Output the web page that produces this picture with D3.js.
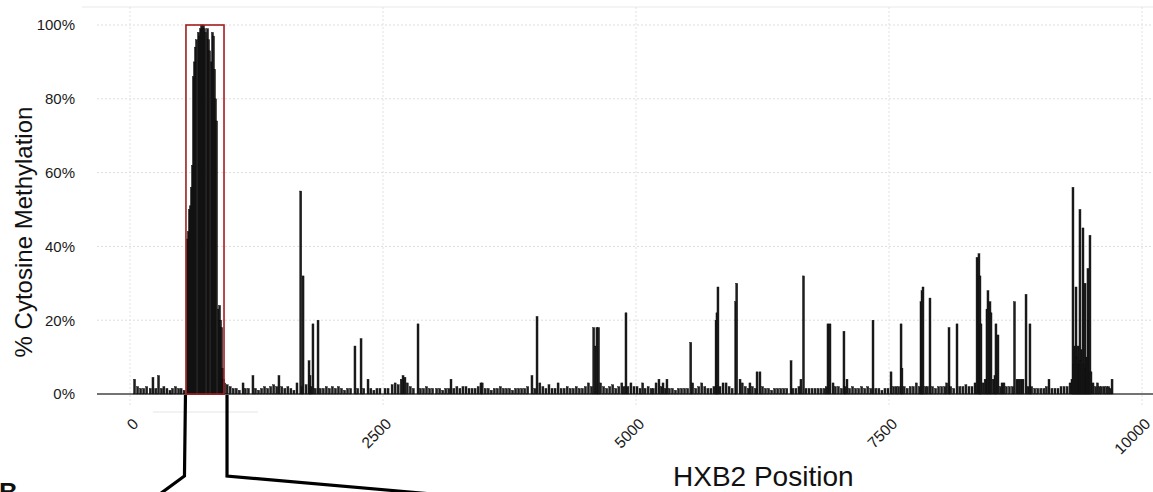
<!DOCTYPE html>
<html><head><meta charset="utf-8">
<script src="https://cdn.jsdelivr.net/npm/d3@7"></script>
<style>body{margin:0;background:#fff}svg{display:block}text{font-family:"Liberation Sans",Arial,sans-serif}</style>
</head><body><svg id="chart" width="1153" height="492"></svg>
<script>
const xTicks=[0,2500,5000,7500,10000];
const yTicks=[0,20,40,60,80,100];
const highlight=[553,929];
const ltrSites=[[567,42],[577,44],[587,50],[597,51],[607,56],[617,62],[627,86],[637,90],[647,94],[657,96],[677,98],[687,97],[697,99],[707,100],[716,99],[726,100],[736,99],[746,98],[766,99],[776,96],[786,93],[806,90],[815,98],[825,97],[835,88],[845,80],[855,74],[875,23],[885,24],[895,20],[905,18],[915,7],[925,4]];
const sitesA=[[45,4],[75,2],[105,1.5],[135,1.5],[165,2],[200,1.5],[227,4.5],[255,1.5],[282,5],[310,1.5],[335,2],[365,1.5],[395,1],[420,1.5],[450,2],[480,1.5],[505,1.5],[535,1],
[935,3],[960,2.5],[990,2],[1020,1.5],[1050,1.5],[1080,1],[1117,3],[1140,1.5],[1170,1.5],[1215,5],[1240,1.5],[1270,1],[1300,1.5],[1330,2],[1360,1.5],[1390,2],[1420,2.5],[1450,2],[1472,5],[1500,2],
[1530,1.5],[1560,2],[1590,1.5],[1620,1],[1650,3],[1687,55],[1700,2],[1710,32],[1740,2.5],[1769,9],[1779,5],[1790,2],[1808,19],[1830,1.5],[1858,20],[1880,1.5],[1910,1.5],[1940,2],[1970,1.5],[2000,2],[2030,1.5],[2060,2],[2090,1.5],[2120,1],[2150,1.5],[2180,1.5],[2223,13],[2250,1.5],[2283,15],[2310,1.5],[2352,4],[2380,1.5],[2410,1],[2440,1.5],[2470,1.5]];
const sitesB=[[2520,1.5],[2550,1.5],[2590,2.5],[2620,3],[2650,2.5],[2680,4],[2698,5],[2717,4.5],[2740,3],[2770,2],[2800,1.5],[2846,19],[2870,1.5],[2900,1.5],[2930,2],[2960,1.5],[2990,1.5],
[3030,1.5],[3060,1.5],[3090,1],[3120,1.5],[3150,1.5],[3172,4],[3200,1.5],[3230,2],[3260,1.5],[3290,2],[3320,2],[3350,1.5],[3380,1.5],[3410,1.5],[3440,2],[3468,3],[3480,3],[3510,1.5],[3540,1.5],[3570,1],[3600,1.5],[3630,1.5],[3660,2],[3690,1.5],[3720,1.5],[3750,1.5],[3780,1],[3810,1.5],[3840,1.5],[3870,1.5],[3900,1.5],[3930,2],[3972,5],[4000,1.5],
[4022,21],[4050,3],[4080,2],[4110,1.5],[4140,2.5],[4170,1.5],[4200,1.5],[4230,3],[4260,1.5],[4290,1.5],[4320,2],[4350,1.5],[4380,1.5],[4410,2],[4440,1.5],[4470,1.5],[4500,2],[4530,3],[4560,2],[4582,18],[4600,13],[4614,18],[4630,18],[4650,3],[4680,2],[4710,1.5],[4740,2],[4770,2.5],[4800,1.5],[4830,2],[4860,3],[4880,2],[4901,22],[4920,2],[4950,3],[4980,2]];
const sitesC=[[5010,2],[5040,1.5],[5066,3],[5090,1.5],[5120,2],[5150,1.5],[5170,1.5],[5198,3],[5227,4],[5250,2],[5267,3],[5290,1.5],[5306,4],[5330,1.5],[5360,1.5],[5390,1],[5420,1.5],[5450,1.5],[5480,1.5],[5510,1.5],[5541,14],[5560,3],[5590,1.5],[5620,2],[5650,3],[5680,2],[5710,1.5],[5740,1.5],[5770,2],[5791,20],[5800,22],[5810,29],[5830,2],[5860,3],[5890,3],[5920,2],[5950,1.5],[5985,25],[5995,30],
[6028,4],[6050,3],[6080,2],[6110,1.5],[6126,3],[6150,2],[6180,1.5],[6196,6],[6225,6],[6250,2],[6280,1.5],[6310,1.5],[6340,1],[6370,1.5],[6400,1.5],[6430,1.5],[6460,1.5],[6490,1.5],[6532,9],[6550,1.5],[6580,1.5],[6610,2],[6630,4],[6655,32],[6680,1.5],[6710,1.5],[6740,1.5],[6770,1.5],[6800,1.5],[6830,1.5],[6860,1.5],[6880,2],[6897,19],[6917,19],[6947,3],[6970,2],
[7000,2],[7030,1.5],[7055,17],[7070,2],[7085,4],[7110,1.5],[7140,2],[7170,1.5],[7200,1.5],[7230,2],[7260,1.5],[7290,2],[7320,1.5],[7342,20],[7370,1.5],[7400,1.5],[7430,1],[7460,1.5],[7490,1.5]];
const sitesD=[[7520,6],[7545,2],[7570,2],[7595,2],[7619,19],[7628,7],[7650,2],[7680,1.5],[7710,2],[7740,2],[7770,3],[7800,2],[7816,25],[7826,28],[7836,29],[7860,2],[7880,2],[7905,26],[7930,2],[7960,1.5],[7990,2],
[8020,2],[8050,2],[8070,3],[8093,18],[8110,2],[8140,1.5],[8172,19],[8200,2],[8230,2],[8260,2.5],[8290,2],[8320,2],[8350,3],[8370,37],[8389,38],[8399,32],[8409,19],[8430,3],[8450,4],[8468,23],[8478,28],[8498,25],[8508,22],[8530,4],[8547,5],[8557,19],[8577,16],[8600,2],[8617,3],[8636,3],[8660,2],[8690,2],[8720,2],[8740,25],[8765,4],[8785,4],[8805,4],[8824,4],[8854,27],[8875,2],[8893,19],[8910,2],[8940,1.5],[8970,1.5],
[9000,1.5],[9030,1.5],[9055,2],[9081,4],[9110,1.5],[9140,1.5],[9170,1.5],[9200,2],[9230,2],[9260,2],[9289,3],[9308,4],[9318,56],[9328,8],[9338,13],[9348,29],[9358,10],[9368,13],[9378,8],[9387,50],[9397,9],[9407,12],[9417,45],[9427,8],[9437,30],[9447,7],[9456,10],[9466,34],[9476,20],[9486,43],[9496,6],[9516,3],[9540,2],[9560,3],[9580,2],[9600,2],[9625,2],[9650,2],[9670,2],[9690,1.5],[9704,4]];

const svg=d3.select("#chart");
const x=d3.scaleLinear().domain([0,10000]).range([130,1142]);
const y=d3.scaleLinear().domain([0,100]).range([394,25]);
const panelLeft=97, panelRight=1153, panelTop=7;
const barW=2;

svg.append("line").attr("x1",82).attr("x2",panelRight).attr("y1",panelTop).attr("y2",panelTop)
  .attr("stroke","#f0f0f0").attr("stroke-width",1.5);
svg.append("line").attr("x1",153).attr("x2",258).attr("y1",412).attr("y2",412)
  .attr("stroke","#eeeeee").attr("stroke-width",1.5);

svg.append("g").selectAll("line").data(yTicks.filter(d=>d>0)).join("line")
  .attr("x1",panelLeft).attr("x2",panelRight).attr("y1",d=>y(d)).attr("y2",d=>y(d))
  .attr("stroke","#dedede").attr("stroke-width",1).attr("stroke-dasharray","2,2");
svg.append("g").selectAll("line").data(xTicks).join("line")
  .attr("x1",d=>x(d)).attr("x2",d=>x(d)).attr("y1",panelTop).attr("y2",405)
  .attr("stroke","#e2e2e2").attr("stroke-width",1).attr("stroke-dasharray","2,2");

svg.append("line").attr("x1",panelLeft).attr("x2",panelRight).attr("y1",y(0)).attr("y2",y(0))
  .attr("stroke","#444").attr("stroke-width",1.3);

const allSites=[].concat(sitesA,sitesB,sitesC,sitesD,ltrSites);
svg.append("g").selectAll("rect").data(allSites).join("rect")
  .attr("x",d=>x(d[0])-barW/2).attr("width",barW)
  .attr("y",d=>y(d[1])).attr("height",d=>y(0)-y(d[1]))
  .attr("fill","#1e1e1e").attr("stroke","#000").attr("stroke-width",0.4);

svg.append("rect").attr("x",x(highlight[0])).attr("y",y(100))
  .attr("width",x(highlight[1])-x(highlight[0])).attr("height",y(0)-y(100))
  .attr("fill","none").attr("stroke","#a31f1f").attr("stroke-width",1.6);

const lx=x(highlight[0])-1, rx=x(highlight[1])+3;
svg.append("path").attr("d",`M${lx+0.5},${y(0)+1} L${lx-0.5},476 L${lx-36},502`)
  .attr("fill","none").attr("stroke","#000").attr("stroke-width",3.2);
svg.append("path").attr("d",`M${rx},${y(0)+1} L${rx},476 L${rx+200},493.5`)
  .attr("fill","none").attr("stroke","#000").attr("stroke-width",3.2);

const yAxis=svg.append("g").attr("transform",`translate(${panelLeft},0)`)
  .call(d3.axisLeft(y).tickValues(yTicks).tickSize(0).tickPadding(22).tickFormat(d=>d+"%"));
yAxis.select(".domain").remove();
yAxis.selectAll("text").attr("font-size",15).attr("fill","#1a1a1a").style("font-family",'"Liberation Sans",Arial,sans-serif');

const xAxis=svg.append("g").attr("transform",`translate(0,${y(0)})`)
  .call(d3.axisBottom(x).tickValues(xTicks).tickSize(0).tickFormat(d3.format("d")));
xAxis.select(".domain").remove();
xAxis.selectAll("text").attr("y",0).attr("dy","0.71em")
  .attr("transform","translate(1,23) rotate(-45)").style("text-anchor","end")
  .attr("font-size",15.5).attr("fill","#1a1a1a").style("font-family",'"Liberation Sans",Arial,sans-serif');

svg.append("text").attr("x",673).attr("y",486).attr("font-size",28).attr("fill","#111").text("HXB2 Position");
svg.append("text").attr("transform","translate(32,232) rotate(-90)").attr("text-anchor","middle")
  .attr("font-size",24).attr("fill","#111").text("% Cytosine Methylation");
svg.append("text").attr("x",-1).attr("y",501).attr("font-size",26).attr("font-weight","bold").attr("fill","#111").text("B");
</script></body></html>
